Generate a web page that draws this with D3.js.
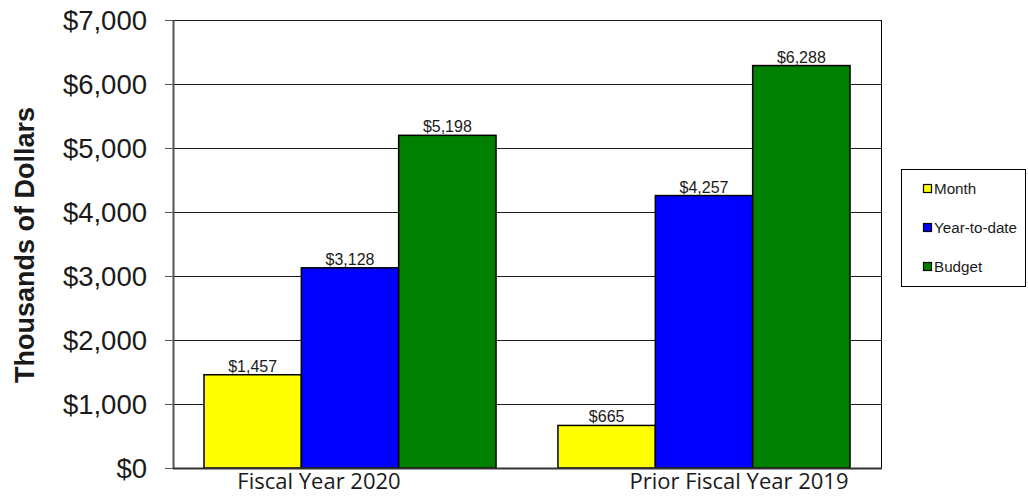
<!DOCTYPE html>
<html>
<head>
<meta charset="utf-8">
<script src="https://cdn.jsdelivr.net/npm/d3@7"></script>
<style>
  html, body { margin: 0; padding: 0; background: #fff; }
  svg { display: block; }
  .sans { font-family: "Liberation Sans", Arial, sans-serif; }
  .cat { font-family: "Open Sans", "Noto Sans", sans-serif; }
</style>
</head>
<body>
<svg id="chart" width="1028" height="499"></svg>
<script>
// Revenue comparison, in thousands of dollars
const categories = ["Fiscal Year 2020", "Prior Fiscal Year 2019"];
const seriesNames = ["Month", "Year-to-date", "Budget"];
const monthValues = [1457, 665];
const ytdValues = [3128, 4257];
const budgetValues = [5198, 6288];
const yTicks = [0, 1000, 2000, 3000, 4000, 5000, 6000, 7000];
const seriesColors = ["#ffff00", "#0000ff", "#008000"];
// horizontal nudge of each category label relative to its band centre
const labelShift = [-31, 35];

const seriesValues = [monthValues, ytdValues, budgetValues];
const rows = categories.map((c, i) => ({
  category: c,
  values: seriesNames.map((s, j) => ({ series: s, value: seriesValues[j][i] }))
}));

const svg = d3.select("#chart");
const plot = { left: 173, right: 881, top: 20, bottom: 468 };

const x0 = d3.scaleBand()
  .domain(categories)
  .range([plot.left, plot.right])
  .paddingInner(0.175)
  .paddingOuter(0.0875);

const x1 = d3.scaleBand()
  .domain(seriesNames)
  .range([0, x0.bandwidth()]);

const y = d3.scaleLinear()
  .domain([0, 7000])
  .range([plot.bottom, plot.top]);

const color = d3.scaleOrdinal().domain(seriesNames).range(seriesColors);
const money = v => "$" + d3.format(",")(v);

// gridlines
svg.append("g")
  .selectAll("line")
  .data(yTicks.filter(t => t > 0))
  .join("line")
  .attr("x1", plot.left).attr("x2", plot.right)
  .attr("y1", d => y(d) + 0.5).attr("y2", d => y(d) + 0.5)
  .attr("stroke", "#1a1a1a").attr("stroke-width", 1);

// right border of the plot area
svg.append("line")
  .attr("x1", plot.right + 0.5).attr("x2", plot.right + 0.5)
  .attr("y1", plot.top).attr("y2", plot.bottom)
  .attr("stroke", "#000").attr("stroke-width", 1);

// bars
const groups = svg.append("g")
  .selectAll("g")
  .data(rows)
  .join("g")
  .attr("transform", d => `translate(${x0(d.category)},0)`);

groups.selectAll("rect")
  .data(d => d.values)
  .join("rect")
  .attr("x", d => x1(d.series))
  .attr("width", x1.bandwidth())
  .attr("y", d => y(d.value))
  .attr("height", d => y(0) - y(d.value))
  .attr("fill", d => color(d.series))
  .attr("stroke", "#000")
  .attr("stroke-width", 1.5);

groups.selectAll("text")
  .data(d => d.values)
  .join("text")
  .attr("class", "sans")
  .attr("x", d => x1(d.series) + x1.bandwidth() / 2)
  .attr("y", d => y(d.value) - 3)
  .attr("text-anchor", "middle")
  .attr("font-size", 16)
  .attr("fill", "#1a1a1a")
  .text(d => money(d.value));

// y axis
const yAxis = svg.append("g")
  .attr("transform", `translate(${plot.left},0)`)
  .call(d3.axisLeft(y).tickValues(yTicks).tickFormat(money).tickSize(8).tickSizeOuter(0));
yAxis.attr("font-family", null).attr("font-size", null);
yAxis.select(".domain").attr("stroke", "#555").attr("stroke-width", 2);
yAxis.selectAll(".tick line").attr("stroke", "#555");
yAxis.selectAll(".tick text")
  .attr("class", "sans")
  .attr("x", -26)
  .attr("dy", "0.36em")
  .attr("font-size", 27.5)
  .attr("fill", "#1a1a1a");

// x axis baseline
svg.append("line")
  .attr("x1", plot.left).attr("x2", plot.right + 1)
  .attr("y1", plot.bottom + 0.5).attr("y2", plot.bottom + 0.5)
  .attr("stroke", "#333").attr("stroke-width", 2);

// category labels
svg.append("g")
  .selectAll("text")
  .data(categories)
  .join("text")
  .attr("class", "cat")
  .attr("x", (d, i) => x0(d) + x0.bandwidth() / 2 + labelShift[i])
  .attr("y", 489)
  .attr("text-anchor", "middle")
  .attr("font-size", 22)
  .attr("fill", "#1a1a1a")
  .text(d => d);

// y axis title
svg.append("text")
  .attr("class", "sans")
  .attr("transform", "translate(34,245) rotate(-90)")
  .attr("text-anchor", "middle")
  .attr("font-weight", "bold")
  .attr("font-size", 27)
  .attr("fill", "#1a1a1a")
  .text("Thousands of Dollars");

// legend
const legend = svg.append("g");
legend.append("rect")
  .attr("x", 901.5).attr("y", 169.5)
  .attr("width", 124).attr("height", 117)
  .attr("fill", "#fff").attr("stroke", "#000").attr("stroke-width", 1);

const items = legend.selectAll("g.item")
  .data(seriesNames)
  .join("g")
  .attr("class", "item")
  .attr("transform", (d, i) => `translate(923,${189 + i * 39})`);

items.append("rect")
  .attr("x", 0.5).attr("y", -4.5)
  .attr("width", 8).attr("height", 8)
  .attr("fill", d => color(d))
  .attr("stroke", "#000").attr("stroke-width", 1.2);

items.append("text")
  .attr("class", "sans")
  .attr("x", 11)
  .attr("y", 0)
  .attr("dy", "0.36em")
  .attr("font-size", 15.2)
  .attr("fill", "#1a1a1a")
  .text(d => d);
</script>
</body>
</html>
